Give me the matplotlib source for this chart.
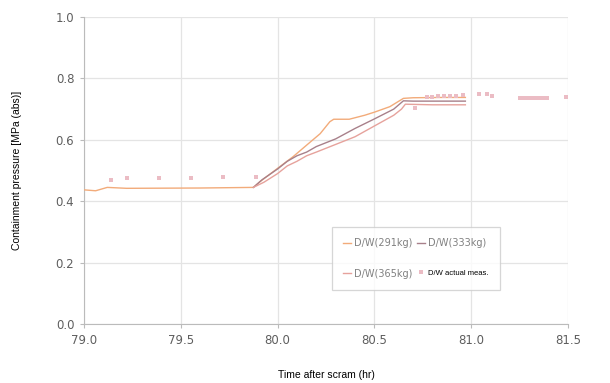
import matplotlib
matplotlib.use("Agg")
import matplotlib.pyplot as plt

# Simulated dry-well pressure for three water-mass cases
t_291 = [79.0, 79.06, 79.12, 79.22, 79.60, 79.875, 79.91, 80.0, 80.08, 80.16, 80.22, 80.27, 80.29, 80.37, 80.45, 80.5, 80.58, 80.65, 80.70, 80.85, 80.97]
p_291 = [0.437, 0.434, 0.445, 0.442, 0.443, 0.445, 0.464, 0.507, 0.545, 0.588, 0.620, 0.659, 0.667, 0.667, 0.680, 0.690, 0.708, 0.735, 0.737, 0.738, 0.738]

t_333 = [79.875, 79.92, 80.0, 80.05, 80.10, 80.15, 80.20, 80.30, 80.40, 80.50, 80.60, 80.65, 80.70, 80.85, 80.97]
p_333 = [0.445, 0.470, 0.505, 0.530, 0.548, 0.560, 0.578, 0.603, 0.637, 0.668, 0.700, 0.727, 0.726, 0.726, 0.726]

t_365 = [79.875, 79.93, 80.0, 80.05, 80.10, 80.15, 80.20, 80.30, 80.40, 80.50, 80.60, 80.64, 80.66, 80.80, 80.97]
p_365 = [0.445, 0.462, 0.490, 0.515, 0.530, 0.548, 0.560, 0.585, 0.610, 0.645, 0.680, 0.700, 0.716, 0.714, 0.714]

# Measured dry-well pressure
t_meas = [79.137, 79.223, 79.386, 79.553, 79.72, 79.887, 80.71, 80.77, 80.80, 80.83, 80.86, 80.89, 80.92, 80.96,
          81.04, 81.08, 81.11, 81.25, 81.27, 81.29, 81.31, 81.33, 81.35, 81.37, 81.39, 81.49]
p_meas = [0.469, 0.477, 0.477, 0.477, 0.480, 0.480, 0.702, 0.740, 0.741, 0.742, 0.742, 0.743, 0.744, 0.745,
          0.748, 0.748, 0.744, 0.737, 0.737, 0.737, 0.737, 0.737, 0.737, 0.737, 0.737, 0.740]

x_ticks = [79.0, 79.5, 80.0, 80.5, 81.0, 81.5]
y_ticks = [0.0, 0.2, 0.4, 0.6, 0.8, 1.0]

plt.rcParams['font.family'] = ['Liberation Sans', 'DejaVu Sans']

fig = plt.figure(figsize=(6.1, 3.83), dpi=100)
ax = fig.add_axes([0.1377, 0.154, 0.7934, 0.8016])

h291, = ax.plot(t_291, p_291, color='#f2ab7a', lw=1.0, label='D/W(291kg)', zorder=3)
h333, = ax.plot(t_333, p_333, color='#a8808a', lw=1.0, label='D/W(333kg)', zorder=3)
h365, = ax.plot(t_365, p_365, color='#e6a29c', lw=1.0, label='D/W(365kg)', zorder=3)
hmeas, = ax.plot(t_meas, p_meas, linestyle='none', marker='s', markersize=2.6,
                 color='#ebbcc4', markeredgewidth=0, label='D/W actual meas.', zorder=4)

ax.set_xlim(79.0, 81.5)
ax.set_ylim(0.0, 1.0)
ax.set_xticks(x_ticks)
ax.set_yticks(y_ticks)
ax.set_xticklabels([f"{v:.1f}" for v in x_ticks], family='DejaVu Sans', fontsize=8.5, color='#5e5e5e')
ax.set_yticklabels([f"{v:.1f}" for v in y_ticks], family='DejaVu Sans', fontsize=8.5, color='#5e5e5e')
ax.tick_params(axis='both', length=3, color='#bbbbbb', pad=4)

ax.grid(True, color='#e4e4e4', lw=0.9)
ax.set_axisbelow(True)
for side in ['top', 'right']:
    ax.spines[side].set_visible(False)
for side in ['left', 'bottom']:
    ax.spines[side].set_color('#bbbbbb')

ax.set_xlabel('Time after scram (hr)', fontsize=7.5, labelpad=17)
ax.set_ylabel('Containment pressure [MPa (abs)]', fontsize=7.5, labelpad=24)

# column-major fill: first row 291 / 333, second row 365 / measured
leg = ax.legend(handles=[h291, h365, h333, hmeas],
                loc='lower left', bbox_to_anchor=(0.502, 0.094, 0.368, 0.258), mode='expand',
                ncol=2, prop={'family': 'DejaVu Sans', 'size': 7}, frameon=True, fancybox=False,
                edgecolor='#cccccc', handlelength=0.8, handletextpad=0.3, labelspacing=2.1,
                borderpad=1.2, columnspacing=0.6)
leg.get_frame().set_linewidth(0.9)
for txt in leg.get_texts():
    if txt.get_text() == 'D/W actual meas.':
        txt.set_fontsize(5.5)
        txt.set_family('Liberation Sans')
        txt.set_color('black')
    else:
        txt.set_color('#808080')

fig.savefig('out.png', dpi=100)
